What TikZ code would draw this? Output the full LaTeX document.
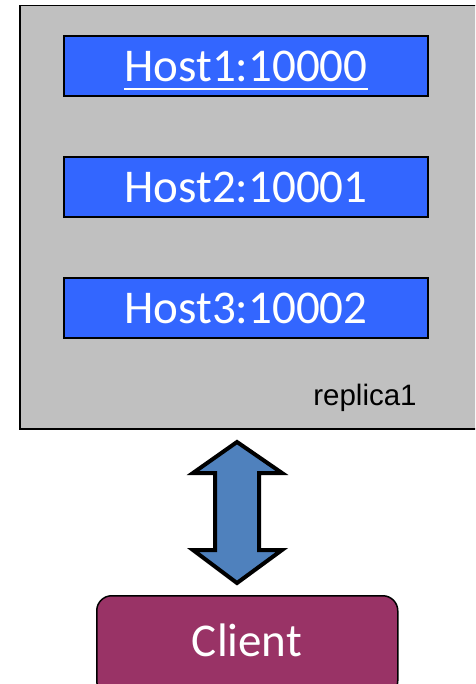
\documentclass[tikz,border=0pt]{standalone}
\usepackage{fontspec}
\setmainfont{Carlito}
\newfontfamily\arialfont{Liberation Sans}
\definecolor{boxgray}{HTML}{C0C0C0}
\definecolor{hostblue}{HTML}{3366FF}
\definecolor{arrowblue}{HTML}{4F81BD}
\definecolor{clientred}{HTML}{993366}
\begin{document}
\begin{tikzpicture}[x=1pt,y=-1pt,
  hostbox/.style={draw=black,line width=2pt,fill=hostblue,minimum width=364pt,minimum height=60pt,inner sep=0pt,
    text=white,font=\fontsize{47}{56}\selectfont},
  clientbox/.style={draw=black,line width=1.5pt,fill=clientred,rounded corners=15pt,minimum width=301pt,minimum height=100pt,
    text=white,font=\fontsize{47}{56}\selectfont}]
\useasboundingbox (0,0) rectangle (475,684);
\begin{scope}
\clip (0,0) rectangle (475,684);
\node[draw=black,line width=1.5pt,fill=boxgray,minimum width=470pt,minimum height=423pt,inner sep=0pt,anchor=north west] (replica) at (19,5) {};
\node[hostbox] (h1) at (246,66) {};
\node[inner sep=0pt,text=white,font=\fontsize{47}{56}\selectfont,anchor=base] (h1t) at (246,82) {Host1:10000};
\draw[white,line width=2.5pt] ([yshift=-7pt]h1t.base -| h1t.west) -- ([yshift=-7pt]h1t.base -| h1t.east);
\node[hostbox] (h2) at (246,187) {Host2:10001};
\node[hostbox] (h3) at (246,308) {Host3:10002};
\node[anchor=base,inner sep=0pt,font=\arialfont\fontsize{29.5}{34}\selectfont] (lbl) at (365,405) {replica1};
\node[clientbox,anchor=north west] (client) at (96,595) {};
\node[text=white,font=\fontsize{47}{56}\selectfont,inner sep=0pt] (clientt) at (247,640) {Client};
\draw[line width=4pt,fill=arrowblue,miter limit=10]
  (237,442) -- (282,473) -- (259,473) -- (259,550) -- (282,550) -- (237,583)
  -- (193,550) -- (215,550) -- (215,473) -- (193,473) -- cycle;
\end{scope}
\end{tikzpicture}
\end{document}
